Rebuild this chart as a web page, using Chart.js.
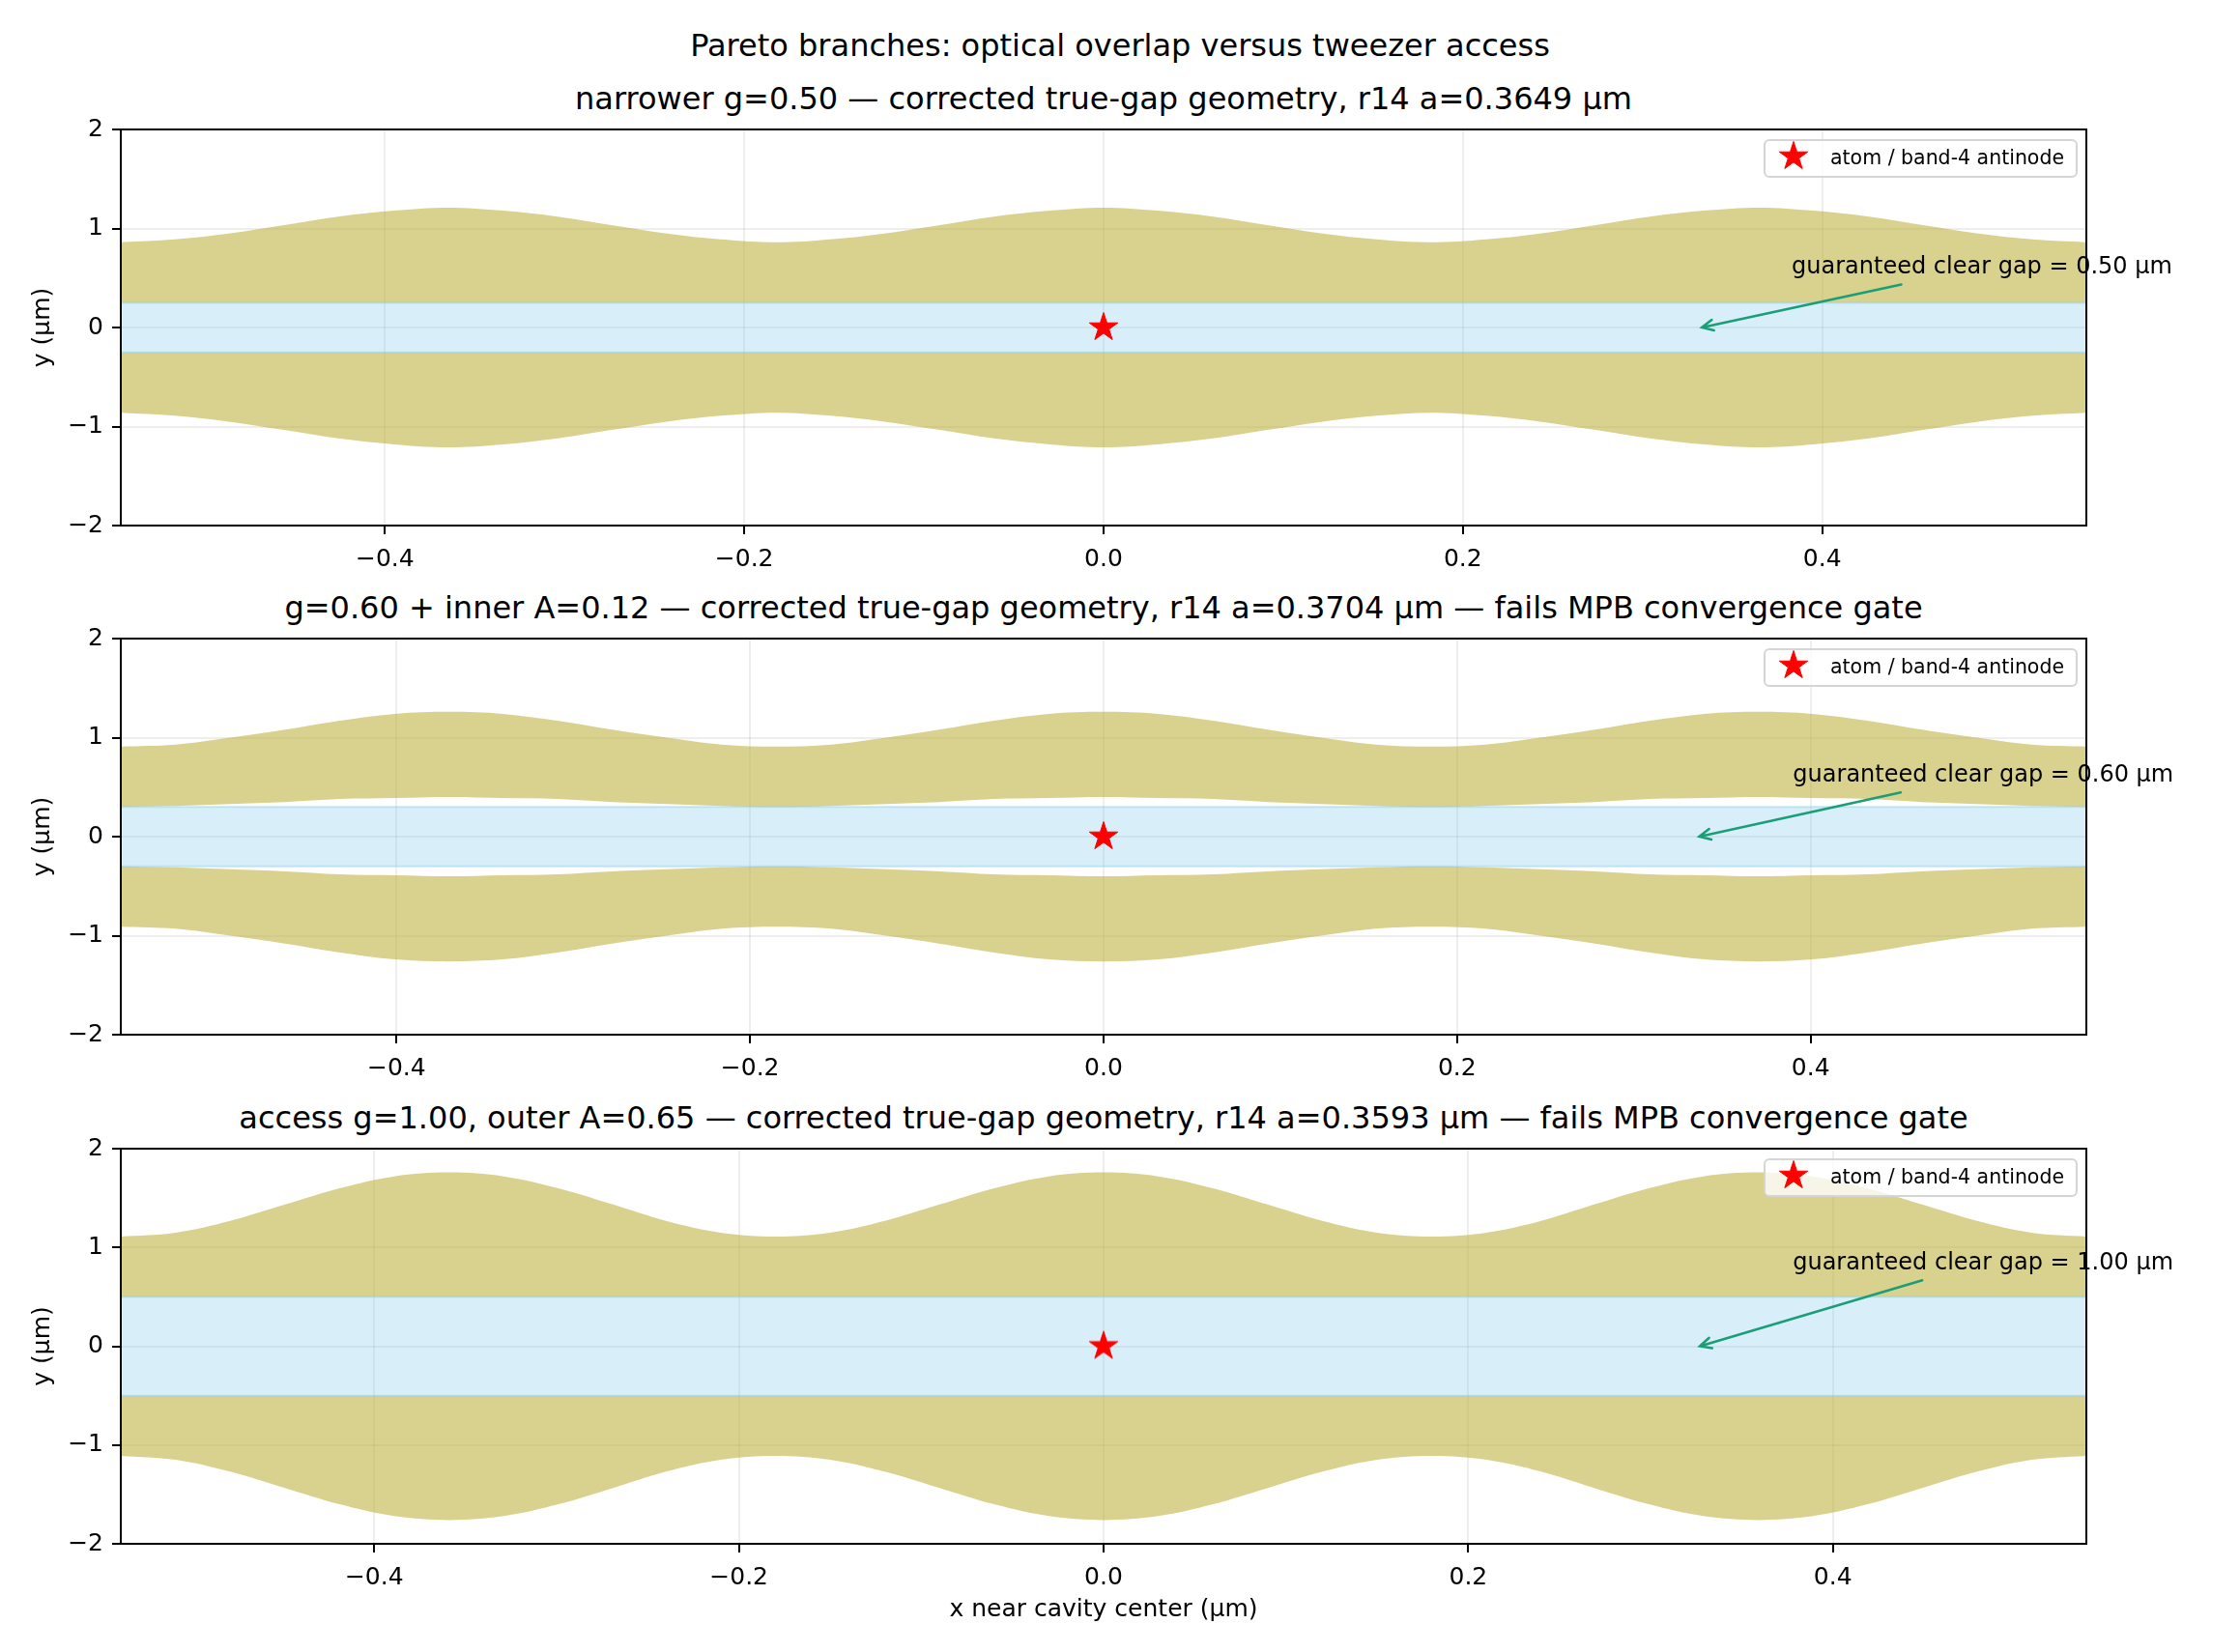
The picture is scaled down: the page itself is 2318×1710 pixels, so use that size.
<!DOCTYPE html>
<html>
<head>
<meta charset="utf-8">
<script src="https://cdn.jsdelivr.net/npm/chart.js@4.4.1/dist/chart.umd.min.js"></script>
<style>
  body { margin: 0; background: #fff; }
  #fig { position: relative; width: 2318px; height: 1710px; font-family: "DejaVu Sans", sans-serif; color: #000; }
  .ttl { position: absolute; white-space: nowrap; text-align: center; font-size: 32px; line-height: 32px; }
  canvas { position: absolute; left: 0; }
</style>
</head>
<body>
<div id="fig">
  <div class="ttl" id="sup" style="left:0;width:2318px;top:31px;"></div>
  <div class="ttl" id="t1" style="left:125px;width:2034px;top:86px;"></div>
  <div class="ttl" id="t2" style="left:125px;width:2034px;top:613px;"></div>
  <div class="ttl" id="t3" style="left:125px;width:2034px;top:1141px;"></div>
  <canvas id="p1" width="2318" height="494" style="top:110px;width:2318px;height:494px;"></canvas>
  <canvas id="p2" width="2318" height="494" style="top:637px;width:2318px;height:494px;"></canvas>
  <canvas id="p3" width="2318" height="545" style="top:1165px;width:2318px;height:545px;"></canvas>
</div>
<script>
// ---- text ----
const suptitle = 'Pareto branches: optical overlap versus tweezer access';
const panelTitles = [
  'narrower g=0.50 \u2014 corrected true-gap geometry, r14 a=0.3649 \u00b5m',
  'g=0.60 + inner A=0.12 \u2014 corrected true-gap geometry, r14 a=0.3704 \u00b5m \u2014 fails MPB convergence gate',
  'access g=1.00, outer A=0.65 \u2014 corrected true-gap geometry, r14 a=0.3593 \u00b5m \u2014 fails MPB convergence gate'
];
const legendLabel = 'atom / band-4 antinode';
const xTitle = 'x near cavity center (\u00b5m)';
const yTitle = 'y (\u00b5m)';

// ---- ticks ----
const xTickVals = [-0.4, -0.2, 0, 0.2, 0.4];
const xTickLabels = ['\u22120.4', '\u22120.2', '0.0', '0.2', '0.4'];
const yTickVals = [-2, -1, 0, 1, 2];
const yTickLabels = ['\u22122', '\u22121', '0', '1', '2'];

// ---- panel 1: narrower g=0.50 ----
const x1 = [-0.547, -0.517, -0.487, -0.456, -0.426, -0.395, -0.365, -0.334, -0.304, -0.274, -0.243, -0.213,
            -0.182, -0.152, -0.122, -0.091, -0.061, -0.030, 0, 0.030, 0.061, 0.091, 0.122, 0.152,
            0.182, 0.213, 0.243, 0.274, 0.304, 0.334, 0.365, 0.395, 0.426, 0.456, 0.487, 0.517, 0.547];
const upOuter1 = [0.86, 0.89, 0.95, 1.035, 1.12, 1.18, 1.21, 1.18, 1.12, 1.035, 0.95, 0.89,
                  0.86, 0.89, 0.95, 1.035, 1.12, 1.18, 1.21, 1.18, 1.12, 1.035, 0.95, 0.89,
                  0.86, 0.89, 0.95, 1.035, 1.12, 1.18, 1.21, 1.18, 1.12, 1.035, 0.95, 0.89, 0.86];
const upInner1 = [0.25, 0.25, 0.25, 0.25, 0.25, 0.25, 0.25, 0.25, 0.25, 0.25, 0.25, 0.25,
                  0.25, 0.25, 0.25, 0.25, 0.25, 0.25, 0.25, 0.25, 0.25, 0.25, 0.25, 0.25,
                  0.25, 0.25, 0.25, 0.25, 0.25, 0.25, 0.25, 0.25, 0.25, 0.25, 0.25, 0.25, 0.25];
const loInner1 = [-0.25, -0.25, -0.25, -0.25, -0.25, -0.25, -0.25, -0.25, -0.25, -0.25, -0.25, -0.25,
                  -0.25, -0.25, -0.25, -0.25, -0.25, -0.25, -0.25, -0.25, -0.25, -0.25, -0.25, -0.25,
                  -0.25, -0.25, -0.25, -0.25, -0.25, -0.25, -0.25, -0.25, -0.25, -0.25, -0.25, -0.25, -0.25];
const loOuter1 = [-0.86, -0.89, -0.95, -1.035, -1.12, -1.18, -1.21, -1.18, -1.12, -1.035, -0.95, -0.89,
                  -0.86, -0.89, -0.95, -1.035, -1.12, -1.18, -1.21, -1.18, -1.12, -1.035, -0.95, -0.89,
                  -0.86, -0.89, -0.95, -1.035, -1.12, -1.18, -1.21, -1.18, -1.12, -1.035, -0.95, -0.89, -0.86];
const gapX1 = [-0.547, 0.547];
const gapTop1 = [0.25, 0.25];
const gapBot1 = [-0.25, -0.25];

// ---- panel 2: g=0.60 + inner A=0.12 ----
const x2 = [-0.556, -0.525, -0.494, -0.463, -0.432, -0.401, -0.370, -0.340, -0.309, -0.278, -0.247, -0.216,
            -0.185, -0.154, -0.123, -0.093, -0.062, -0.031, 0, 0.031, 0.062, 0.093, 0.123, 0.154,
            0.185, 0.216, 0.247, 0.278, 0.309, 0.340, 0.370, 0.401, 0.432, 0.463, 0.494, 0.525, 0.556];
const upOuter2 = [0.91, 0.93, 1.00, 1.08, 1.17, 1.24, 1.26, 1.24, 1.17, 1.08, 1.00, 0.93,
                  0.91, 0.93, 1.00, 1.08, 1.17, 1.24, 1.26, 1.24, 1.17, 1.08, 1.00, 0.93,
                  0.91, 0.93, 1.00, 1.08, 1.17, 1.24, 1.26, 1.24, 1.17, 1.08, 1.00, 0.93, 0.91];
const upInner2 = [0.30, 0.31, 0.33, 0.35, 0.38, 0.39, 0.40, 0.39, 0.38, 0.35, 0.33, 0.31,
                  0.30, 0.31, 0.33, 0.35, 0.38, 0.39, 0.40, 0.39, 0.38, 0.35, 0.33, 0.31,
                  0.30, 0.31, 0.33, 0.35, 0.38, 0.39, 0.40, 0.39, 0.38, 0.35, 0.33, 0.31, 0.30];
const loInner2 = [-0.30, -0.31, -0.33, -0.35, -0.38, -0.39, -0.40, -0.39, -0.38, -0.35, -0.33, -0.31,
                  -0.30, -0.31, -0.33, -0.35, -0.38, -0.39, -0.40, -0.39, -0.38, -0.35, -0.33, -0.31,
                  -0.30, -0.31, -0.33, -0.35, -0.38, -0.39, -0.40, -0.39, -0.38, -0.35, -0.33, -0.31, -0.30];
const loOuter2 = [-0.91, -0.93, -1.00, -1.08, -1.17, -1.24, -1.26, -1.24, -1.17, -1.08, -1.00, -0.93,
                  -0.91, -0.93, -1.00, -1.08, -1.17, -1.24, -1.26, -1.24, -1.17, -1.08, -1.00, -0.93,
                  -0.91, -0.93, -1.00, -1.08, -1.17, -1.24, -1.26, -1.24, -1.17, -1.08, -1.00, -0.93, -0.91];
const gapX2 = [-0.556, 0.556];
const gapTop2 = [0.30, 0.30];
const gapBot2 = [-0.30, -0.30];

// ---- panel 3: access g=1.00, outer A=0.65 ----
const x3 = [-0.539, -0.509, -0.479, -0.449, -0.419, -0.389, -0.359, -0.329, -0.299, -0.269, -0.240, -0.210,
            -0.180, -0.150, -0.120, -0.090, -0.060, -0.030, 0, 0.030, 0.060, 0.090, 0.120, 0.150,
            0.180, 0.210, 0.240, 0.269, 0.299, 0.329, 0.359, 0.389, 0.419, 0.449, 0.479, 0.509, 0.539];
const upOuter3 = [1.11, 1.15, 1.27, 1.435, 1.60, 1.72, 1.76, 1.72, 1.60, 1.435, 1.27, 1.15,
                  1.11, 1.15, 1.27, 1.435, 1.60, 1.72, 1.76, 1.72, 1.60, 1.435, 1.27, 1.15,
                  1.11, 1.15, 1.27, 1.435, 1.60, 1.72, 1.76, 1.72, 1.60, 1.435, 1.27, 1.15, 1.11];
const upInner3 = [0.50, 0.50, 0.50, 0.50, 0.50, 0.50, 0.50, 0.50, 0.50, 0.50, 0.50, 0.50,
                  0.50, 0.50, 0.50, 0.50, 0.50, 0.50, 0.50, 0.50, 0.50, 0.50, 0.50, 0.50,
                  0.50, 0.50, 0.50, 0.50, 0.50, 0.50, 0.50, 0.50, 0.50, 0.50, 0.50, 0.50, 0.50];
const loInner3 = [-0.50, -0.50, -0.50, -0.50, -0.50, -0.50, -0.50, -0.50, -0.50, -0.50, -0.50, -0.50,
                  -0.50, -0.50, -0.50, -0.50, -0.50, -0.50, -0.50, -0.50, -0.50, -0.50, -0.50, -0.50,
                  -0.50, -0.50, -0.50, -0.50, -0.50, -0.50, -0.50, -0.50, -0.50, -0.50, -0.50, -0.50, -0.50];
const loOuter3 = [-1.11, -1.15, -1.27, -1.435, -1.60, -1.72, -1.76, -1.72, -1.60, -1.435, -1.27, -1.15,
                  -1.11, -1.15, -1.27, -1.435, -1.60, -1.72, -1.76, -1.72, -1.60, -1.435, -1.27, -1.15,
                  -1.11, -1.15, -1.27, -1.435, -1.60, -1.72, -1.76, -1.72, -1.60, -1.435, -1.27, -1.15, -1.11];
const gapX3 = [-0.539, 0.539];
const gapTop3 = [0.50, 0.50];
const gapBot3 = [-0.50, -0.50];

// atom position (same in every panel)
const atomX = [0];
const atomY = [0];

// annotation: text, text anchor, arrow tail, arrow head (data coords)
const noteText = ['guaranteed clear gap = 0.50 \u00b5m', 'guaranteed clear gap = 0.60 \u00b5m', 'guaranteed clear gap = 1.00 \u00b5m'];
const noteAt = [[0.383, 0.55], [0.390, 0.56], [0.378, 0.78]];
const noteTail = [[0.444, 0.435], [0.451, 0.447], [0.449, 0.667]];
const noteHead = [[0.333, 0], [0.337, 0], [0.327, 0]];

// ---- styling ----
const FONT = '"DejaVu Sans", sans-serif';
const OLIVE = 'rgba(190,176,60,0.58)';
const BLUE = 'rgba(135,206,235,0.32)';
const BLUE_EDGE = 'rgba(135,206,235,0.45)';
const GRID = 'rgba(176,176,176,0.22)';
const ARROW = '#1b9e77';

document.getElementById('sup').textContent = suptitle;
document.getElementById('t1').textContent = panelTitles[0];
document.getElementById('t2').textContent = panelTitles[1];
document.getElementById('t3').textContent = panelTitles[2];

// filled five-point star used for the atom marker and its legend entry
const starImg = document.createElement('canvas');
starImg.width = 36; starImg.height = 36;
(function () {
  const c = starImg.getContext('2d');
  const R = 15.5, r = R * 0.382;
  c.beginPath();
  for (let k = 0; k < 10; k++) {
    const rad = k % 2 === 0 ? R : r;
    const ang = -Math.PI / 2 + k * Math.PI / 5;
    const px = 18 + rad * Math.cos(ang), py = 18 + rad * Math.sin(ang);
    if (k === 0) c.moveTo(px, py); else c.lineTo(px, py);
  }
  c.closePath();
  c.fillStyle = '#ff0000';
  c.fill();
  c.strokeStyle = '#ff0000';
  c.lineWidth = 1;
  c.stroke();
})();

// axes frame, legend box and arrow annotation
const decorPlugin = {
  id: 'decor',
  afterDraw(chart, args, opts) {
    const ctx = chart.ctx;
    const ca = chart.chartArea;
    const sx = chart.scales.x, sy = chart.scales.y;
    ctx.save();

    // annotation arrow
    const tx = sx.getPixelForValue(opts.tail[0]), ty = sy.getPixelForValue(opts.tail[1]);
    const hx = sx.getPixelForValue(opts.head[0]), hy = sy.getPixelForValue(opts.head[1]);
    ctx.strokeStyle = ARROW;
    ctx.lineWidth = 2.5;
    ctx.lineCap = 'round';
    ctx.beginPath();
    ctx.moveTo(tx, ty);
    ctx.lineTo(hx, hy);
    const ang = Math.atan2(ty - hy, tx - hx);
    const hl = 13, spread = 0.45;
    ctx.moveTo(hx + hl * Math.cos(ang + spread), hy + hl * Math.sin(ang + spread));
    ctx.lineTo(hx, hy);
    ctx.lineTo(hx + hl * Math.cos(ang - spread), hy + hl * Math.sin(ang - spread));
    ctx.stroke();

    // annotation text
    ctx.fillStyle = '#000';
    ctx.font = '24px ' + FONT;
    ctx.textAlign = 'left';
    ctx.textBaseline = 'alphabetic';
    ctx.fillText(opts.text, sx.getPixelForValue(opts.at[0]), sy.getPixelForValue(opts.at[1]));

    // legend
    const bw = 323, bh = 38;
    const bx = ca.right - 10 - bw, by = ca.top + 11;
    ctx.beginPath();
    ctx.roundRect(bx, by, bw, bh, 5);
    ctx.fillStyle = 'rgba(255,255,255,0.8)';
    ctx.fill();
    ctx.strokeStyle = '#d5d5d5';
    ctx.lineWidth = 2;
    ctx.stroke();
    ctx.drawImage(starImg, bx + 30 - 18, by + 17 - 18);
    ctx.fillStyle = '#000';
    ctx.font = '20.5px ' + FONT;
    ctx.fillText(legendLabel, bx + 68, by + 25);

    // frame
    ctx.strokeStyle = '#000';
    ctx.lineWidth = 2;
    ctx.strokeRect(ca.left, ca.top, ca.right - ca.left, ca.bottom - ca.top);
    ctx.restore();
  }
};

function pts(xs, ys) {
  return xs.map((x, i) => ({ x: x, y: ys[i] }));
}

function buildPanel(id, xs, upOuter, upInner, loInner, loOuter, gapX, gapTop, gapBot, k, showXTitle, xAxisHeight) {
  const band = (data, fill) => ({
    data: data, fill: fill, backgroundColor: OLIVE, borderWidth: 0, borderColor: 'rgba(0,0,0,0)',
    pointRadius: 0, tension: 0.35
  });
  new Chart(document.getElementById(id), {
    type: 'line',
    data: {
      datasets: [
        // atom marker (first so it is drawn on top)
        { data: pts(atomX, atomY), showLine: false, pointStyle: starImg, pointRadius: 15,
          backgroundColor: '#ff0000', borderColor: '#ff0000' },
        // clear gap
        { data: pts(gapX, gapTop), fill: '+1', backgroundColor: BLUE, borderColor: BLUE_EDGE, borderWidth: 2, pointRadius: 0 },
        { data: pts(gapX, gapBot), fill: false, borderColor: BLUE_EDGE, borderWidth: 2, pointRadius: 0 },
        // upper and lower dielectric rails
        band(pts(xs, upOuter), '+1'),
        band(pts(xs, upInner), false),
        band(pts(xs, loInner), '+1'),
        band(pts(xs, loOuter), false)
      ]
    },
    options: {
      responsive: false,
      animation: false,
      events: [],
      layout: { padding: { left: 0, right: 159, top: 20, bottom: 0 } },
      plugins: {
        legend: { display: false },
        tooltip: { enabled: false },
        title: { display: false },
        decor: { text: noteText[k], at: noteAt[k], tail: noteTail[k], head: noteHead[k] }
      },
      scales: {
        x: {
          type: 'linear',
          min: xs[0],
          max: xs[xs.length - 1],
          afterBuildTicks: s => { s.ticks = xTickVals.map(v => ({ value: v })); },
          afterFit: s => { s.height = xAxisHeight; },
          ticks: {
            callback: (v, i) => xTickLabels[i],
            font: { family: FONT, size: 25 }, color: '#000', padding: 11,
            maxRotation: 0, autoSkip: false
          },
          grid: { color: GRID, lineWidth: 2, tickColor: '#000', tickLength: 9, tickWidth: 2 },
          border: { display: false },
          title: {
            display: showXTitle, text: xTitle, color: '#000',
            font: { family: FONT, size: 25 }, padding: { top: 0, bottom: 29 }
          }
        },
        y: {
          type: 'linear',
          min: -2,
          max: 2,
          afterBuildTicks: s => { s.ticks = yTickVals.map(v => ({ value: v })); },
          afterFit: s => { s.width = 125; },
          ticks: {
            callback: (v, i) => yTickLabels[i],
            font: { family: FONT, size: 25 }, color: '#000', padding: 9
          },
          grid: { color: GRID, lineWidth: 2, tickColor: '#000', tickLength: 9, tickWidth: 2 },
          border: { display: false },
          title: {
            display: true, text: yTitle, color: '#000',
            font: { family: FONT, size: 25 }, padding: { top: 29, bottom: 0 }
          }
        }
      }
    },
    plugins: [decorPlugin]
  });
}

buildPanel('p1', x1, upOuter1, upInner1, loInner1, loOuter1, gapX1, gapTop1, gapBot1, 0, false, 60);
buildPanel('p2', x2, upOuter2, upInner2, loInner2, loOuter2, gapX2, gapTop2, gapBot2, 1, false, 60);
buildPanel('p3', x3, upOuter3, upInner3, loInner3, loOuter3, gapX3, gapTop3, gapBot3, 2, true, 112);
</script>
</body>
</html>
